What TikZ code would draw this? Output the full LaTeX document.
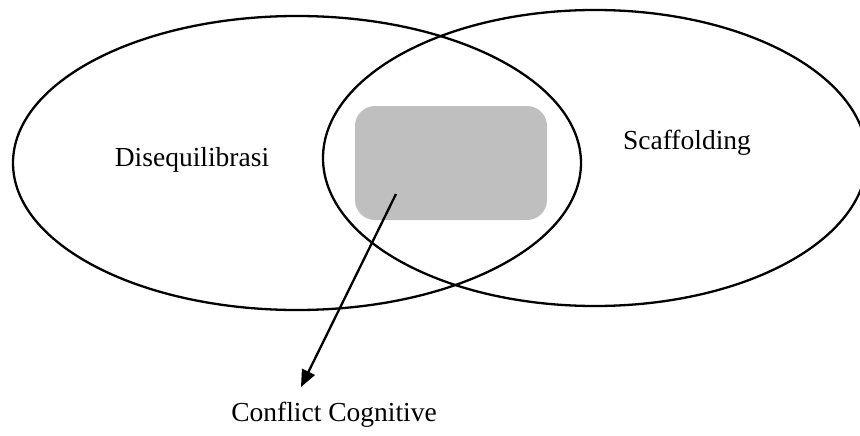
\documentclass[tikz,border=0pt]{standalone}
\usepackage{fontspec}
\setmainfont{Liberation Serif}
\usetikzlibrary{shapes.geometric,arrows.meta}
\begin{document}
\begin{tikzpicture}[x=1pt,y=-1pt,
  ring/.style={ellipse,draw=black,line width=2.3pt,inner sep=0pt},
  label/.style={font=\fontsize{27.5}{32}\selectfont,inner sep=0pt},
  arr/.style={line width=2.3pt,-{Triangle[length=17pt,width=14pt]}}]
\useasboundingbox (0,0) rectangle (860,436);
\clip (0,0) rectangle (860,436);
\node[ring,minimum width=568pt,minimum height=294pt] (L) at (297,163) {};
\node[ring,minimum width=544pt,minimum height=296pt] (R) at (595,158) {};
\node[fill={rgb,255:red,191;green,191;blue,191},rounded corners=20pt,minimum width=192pt,minimum height=114pt,inner sep=0pt] (box) at (451,163) {};
\node[label] (dis) at (192,160) {Disequilibrasi};
\node[label] (sca) at (687,143) {Scaffolding};
\node[label] (cc) at (334,415) {Conflict Cognitive};
\coordinate (start) at (396,194);
\coordinate (tip) at (301,387);
\draw[arr] (start) -- (tip);
\end{tikzpicture}
\end{document}
